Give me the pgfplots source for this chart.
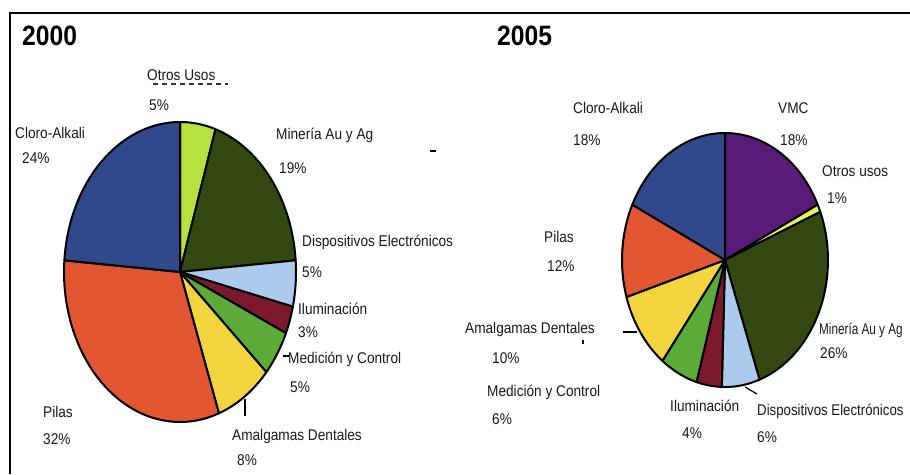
\documentclass[border=0pt]{standalone}
\usepackage{pgfplots}
\pgfplotsset{compat=1.18}
\usepackage{fontspec}
\setmainfont{Liberation Sans}[FakeStretch=0.88]

\definecolor{cCloro}{RGB}{50,72,140}
\definecolor{cOtros}{RGB}{182,226,62}
\definecolor{cOtrosB}{RGB}{236,240,92}
\definecolor{cMin}{RGB}{52,72,18}
\definecolor{cDisp}{RGB}{172,202,236}
\definecolor{cIlum}{RGB}{125,25,45}
\definecolor{cMed}{RGB}{92,170,56}
\definecolor{cAmal}{RGB}{242,212,62}
\definecolor{cPilas}{RGB}{226,86,50}
\definecolor{cVMC}{RGB}{88,28,120}

% pie geometry (pixels): centre x, centre y, radius x, radius y, total
\newcommand\startpie[5]{\gdef\pcx{#1}\gdef\pcy{#2}\gdef\prx{#3}\gdef\pry{#4}\gdef\ptot{#5}\gdef\pcum{0}}
\newcommand\slice[2]{%
  \pgfmathsetmacro\sa{\pcum/\ptot*360}%
  \pgfmathsetmacro\sb{(\pcum+#1)/\ptot*360}%
  \edef\doslice{\noexpand\addplot[fill=#2, draw=black, line width=2pt, line join=round,
     domain=\sa:\sb, samples=60, variable=\noexpand\t]
     ({\pcx+\prx*sin(\noexpand\t)},{\pcy-\pry*cos(\noexpand\t)}) -- (axis cs:\pcx,\pcy) -- cycle;}%
  \doslice
  \pgfmathsetmacro\tmp{\pcum+#1}\xdef\pcum{\tmp}%
}
\newcommand\lab[3]{\node[anchor=base west, inner sep=0pt, font=\fontsize{15.5}{18}\selectfont, text=black!90] at (axis cs:#1,#2) {#3};}

\begin{document}
\begin{tikzpicture}
\begin{axis}[
  scale only axis, width=910pt, height=474pt,
  xmin=0, xmax=910, ymin=0, ymax=474, y dir=reverse,
  hide axis, clip=false]

% ---- 2000 (values in %) ----
\startpie{180}{272}{116}{150}{101}
\slice{5}{cOtros}   % Otros Usos
\slice{19}{cMin}    % Mineria Au y Ag
\slice{5}{cDisp}    % Dispositivos Electronicos
\slice{3}{cIlum}    % Iluminacion
\slice{5}{cMed}     % Medicion y Control
\slice{8}{cAmal}    % Amalgamas Dentales
\slice{32}{cPilas}  % Pilas
\slice{24}{cCloro}  % Cloro-Alkali

% ---- 2005 (values in %) ----
\startpie{725}{260}{103}{127}{101}
\slice{18}{cVMC}    % VMC
\slice{1}{cOtrosB}  % Otros usos
\slice{26}{cMin}    % Mineria Au y Ag
\slice{6}{cDisp}    % Dispositivos Electronicos
\slice{4}{cIlum}    % Iluminacion
\slice{6}{cMed}     % Medicion y Control
\slice{10}{cAmal}   % Amalgamas Dentales
\slice{12}{cPilas}  % Pilas
\slice{18}{cCloro}  % Cloro-Alkali

% frame
\draw[line width=2pt] (axis cs:10,474) -- (axis cs:10,13) -- (axis cs:910,13);

% titles
\node[anchor=base west, inner sep=0pt, font=\fontsize{28}{30}\selectfont\bfseries] at (axis cs:22,45) {2000};
\node[anchor=base west, inner sep=0pt, font=\fontsize{28}{30}\selectfont\bfseries] at (axis cs:497,45) {2005};

% labels 2000
\lab{147}{80}{Otros Usos}
\lab{149}{110}{5\%}
\lab{15}{138}{Cloro-Alkali}
\lab{22}{163}{24\%}
\lab{276}{139}{Minería Au y Ag}
\lab{279}{173}{19\%}
\lab{302}{246}{Dispositivos Electrónicos}
\lab{302}{277}{5\%}
\lab{298}{314}{Iluminación}
\lab{298}{337}{3\%}
\lab{288}{363}{Medición y Control}
\lab{290}{392}{5\%}
\lab{232}{440}{Amalgamas Dentales}
\lab{237}{465}{8\%}
\lab{43}{417}{Pilas}
\lab{43}{444}{32\%}

% labels 2005
\lab{573}{113}{Cloro-Alkali}
\lab{573}{145}{18\%}
\lab{778}{113}{VMC}
\lab{780}{145}{18\%}
\lab{822}{176}{Otros usos}
\lab{827}{203}{1\%}
\lab{544}{242}{Pilas}
\lab{547}{271}{12\%}
\lab{465}{333}{Amalgamas Dentales}
\lab{492}{363}{10\%}
\lab{487}{396}{Medición y Control}
\lab{492}{424}{6\%}
\lab{670}{411}{Iluminación}
\lab{682}{438}{4\%}
\lab{757}{415}{\scalebox{0.97}[1]{Dispositivos Electrónicos}}
\lab{757}{442}{6\%}
\lab{819}{334}{\scalebox{0.86}[1]{Minería Au y Ag}}
\lab{820}{358}{26\%}

% leader lines and small marks
\draw[line width=1.2pt] (axis cs:245,399) -- (axis cs:245,416);
\draw[line width=1.2pt] (axis cs:283,356) -- (axis cs:289,356);
\draw[line width=1.2pt] (axis cs:623,332) -- (axis cs:637,332);
\draw[line width=1.2pt] (axis cs:745,387) -- (axis cs:757,394);
\draw[line width=1.5pt, dash pattern=on 5pt off 4pt, black!80] (axis cs:153,84) -- (axis cs:228,84);
\draw[line width=2pt] (axis cs:430,151) -- (axis cs:436,151);
\draw[line width=1.5pt] (axis cs:583,340) -- (axis cs:583,344);
\end{axis}
\pgfresetboundingbox
\useasboundingbox (current axis.south west) rectangle (current axis.north east);
\end{tikzpicture}
\end{document}
